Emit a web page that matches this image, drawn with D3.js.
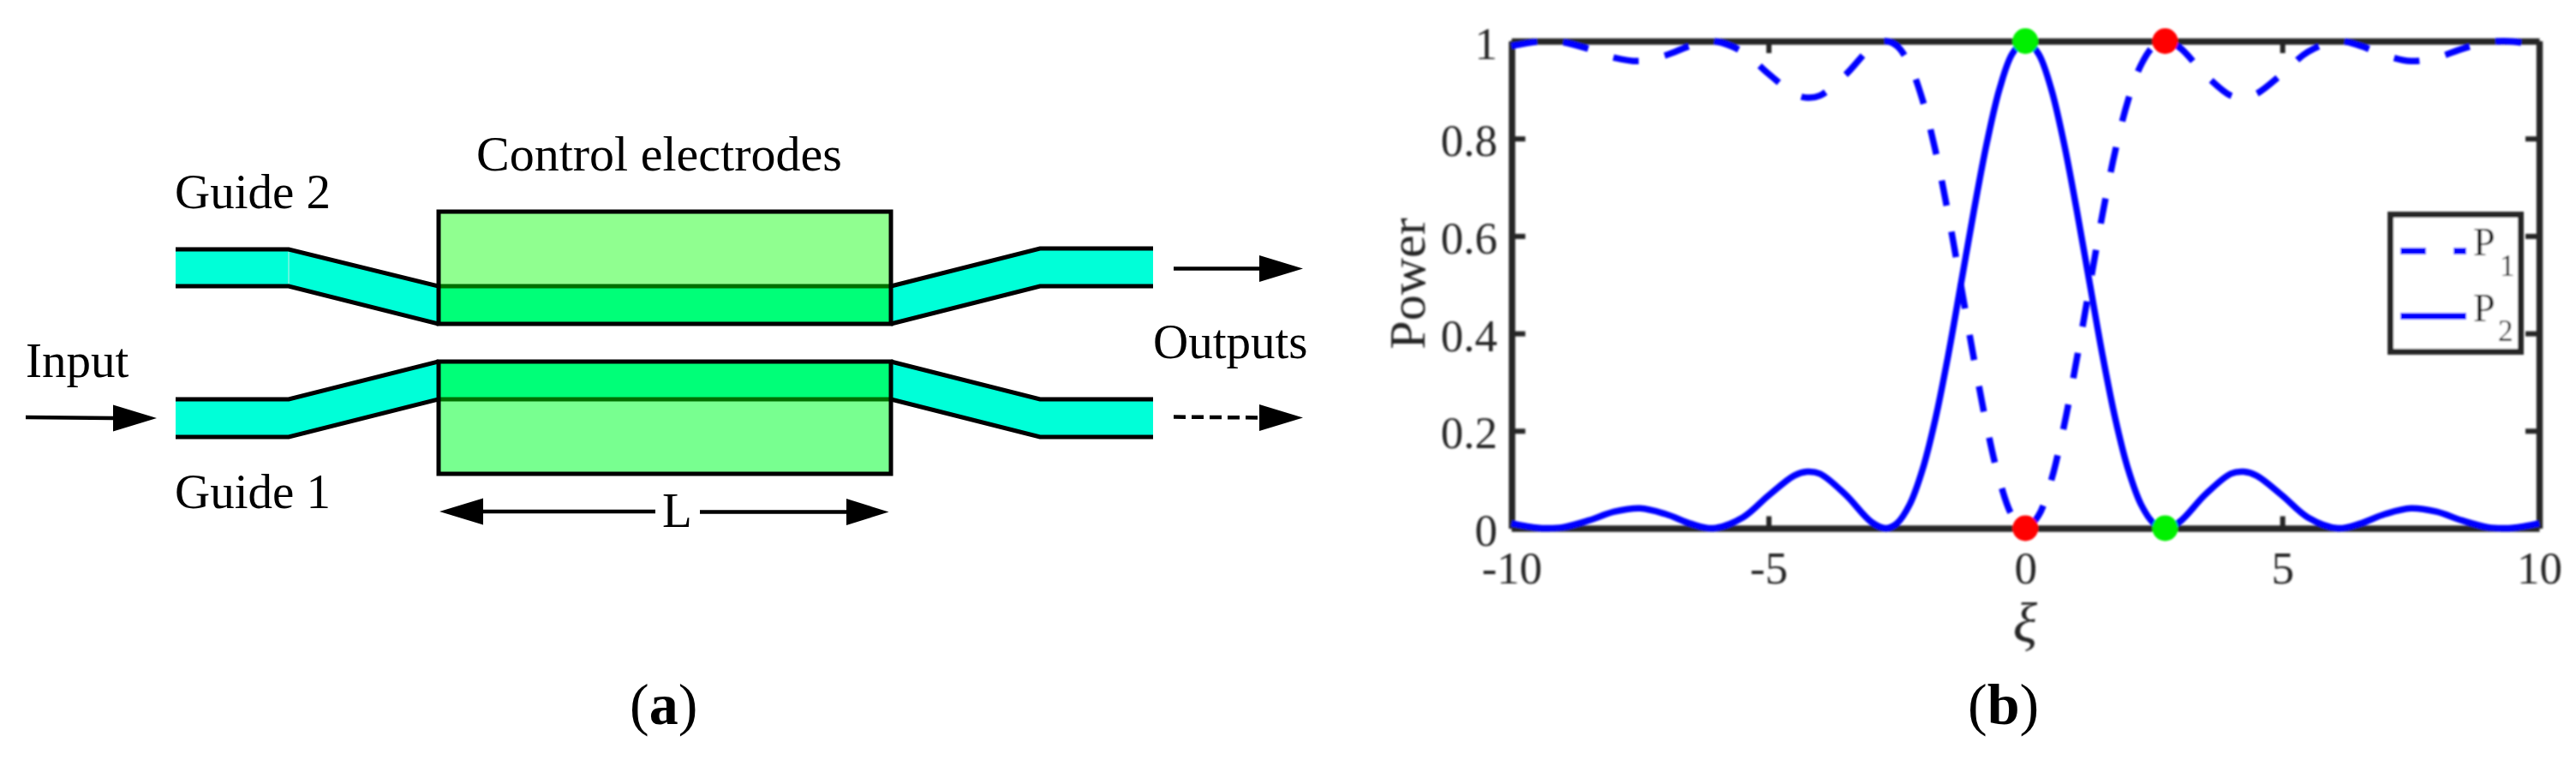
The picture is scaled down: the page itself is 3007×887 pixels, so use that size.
<!DOCTYPE html>
<html><head><meta charset="utf-8">
<script src="https://cdn.jsdelivr.net/npm/d3@7/dist/d3.min.js"></script>
<style>
html,body{margin:0;padding:0;background:#fff;overflow:hidden}
text{font-family:"Liberation Serif","Times New Roman",serif}
</style></head><body>
<svg id="fig" width="3007" height="887" xmlns="http://www.w3.org/2000/svg"></svg>
<script>
// ---- panel (b) data ----
const xi = [-10,-9.5,-9.3,-9,-8.5,-8,-7.5,-7,-6.5,-6.08,-5.5,-5,-4.5,-4.25,-4,-3.5,-3,-2.72,-2.5,-2.25,-2,-1.75,-1.5,-1.25,-1,-0.75,-0.5,-0.25,0,
            0.25,0.5,0.75,1,1.25,1.5,1.75,2,2.25,2.5,2.72,3,3.5,4,4.25,4.5,5,5.5,6.08,6.5,7,7.5,8,8.5,9,9.3,9.5,10];
const P2 = [0.010,0.001,0,0.002,0.016,0.034,0.041,0.029,0.009,0,0.022,0.067,0.108,0.116,0.112,0.069,0.013,0,0.010,0.049,0.121,0.225,0.356,0.504,0.653,0.791,0.903,0.975,1,
            0.975,0.903,0.791,0.653,0.504,0.356,0.225,0.121,0.049,0.010,0,0.013,0.069,0.112,0.116,0.108,0.067,0.022,0,0.009,0.029,0.041,0.034,0.016,0.002,0,0.001,0.010];
const P1 = [0.990,0.999,1,0.998,0.984,0.966,0.959,0.971,0.991,1,0.978,0.933,0.892,0.884,0.888,0.931,0.987,1,0.990,0.951,0.879,0.775,0.644,0.496,0.347,0.209,0.097,0.025,0,
            0.025,0.097,0.209,0.347,0.496,0.644,0.775,0.879,0.951,0.990,1,0.987,0.931,0.888,0.884,0.892,0.933,0.978,1,0.991,0.971,0.959,0.966,0.984,0.998,1,0.999,0.990];
const xTicks = [-10,-5,0,5,10];
const yTicks = [0,0.2,0.4,0.6,0.8,1];
const redDots = [[0,0],[2.72,1]];
const greenDots = [[0,1],[2.72,0]];
const legendNames = ["P","P"];
const legendSubs = ["1","2"];

const svg = d3.select("#fig");
const BLACK="#000", INK="#262626", BLUE="#0000ff";
const defs = svg.append("defs");
defs.append("filter").attr("id","soft").attr("x","-5%").attr("y","-5%").attr("width","110%").attr("height","110%")
  .append("feGaussianBlur").attr("stdDeviation",0.8);
defs.append("filter").attr("id","softer")
  .append("feGaussianBlur").attr("stdDeviation",0.4);

// ---- panel (a): the schematic ----
const a = svg.append("g").attr("filter","url(#softer)");
const line = d3.line();
function rect(x,y,w,h,fill){a.append("rect").attr("x",x).attr("y",y).attr("width",w).attr("height",h).attr("fill",fill);}
function guide(top,bot){
  a.append("path").attr("d",line(top.concat(bot.slice().reverse()))+"Z").attr("fill","#00ffd8");
  [top,bot].forEach(p=>a.append("path").attr("d",line(p)).attr("fill","none").attr("stroke",BLACK).attr("stroke-width",5));
}
rect(512,247,528,131,"#90ff90"); rect(512,334,528,44,"#00ff78");
rect(512,422,528,131,"#78ff90"); rect(512,422,528,44,"#00ff78");
guide([[205,291],[337,291],[512,334]],[[205,334],[337,334],[512,378]]);
guide([[205,466],[337,466],[512,422]],[[205,510],[337,510],[512,466]]);
guide([[1040,334],[1214,290],[1346,290]],[[1040,378],[1214,334],[1346,334]]);
guide([[1040,422],[1214,466],[1346,466]],[[1040,466],[1214,510],[1346,510]]);
a.append("line").attr("x1",337).attr("x2",337).attr("y1",294).attr("y2",331).attr("stroke","#c8ece6").attr("stroke-width",1);
[334,466].forEach(y=>a.append("line").attr("x1",512).attr("x2",1040).attr("y1",y).attr("y2",y).attr("stroke","#007000").attr("stroke-width",5));
[[512,247,528,131],[512,422,528,131]].forEach(r=>a.append("rect").attr("x",r[0]).attr("y",r[1]).attr("width",r[2]).attr("height",r[3])
  .attr("fill","none").attr("stroke",BLACK).attr("stroke-width",5));

function arrow(x1,y1,xb,xt,yt,dash){
  a.append("line").attr("x1",x1).attr("y1",y1).attr("x2",xb).attr("y2",yt).attr("stroke",BLACK).attr("stroke-width",4.5)
   .attr("stroke-dasharray",dash||null);
  a.append("path").attr("d",line([[xb,yt-15.5],[xt,yt],[xb,yt+15.5]])+"Z").attr("fill",BLACK);
}
arrow(30,487,132,183,488);
arrow(765,597,564,513,597);
arrow(817,597.5,988,1037.5,597.5);
arrow(1370,313.5,1470,1521,313.5);
arrow(1370,486.5,1470,1521,487.5,"14 7");

function label(x,y,t,size){return a.append("text").attr("x",x).attr("y",y).attr("font-size",size||57).attr("fill","#000").text(t);}
label(204,243,"Guide 2");
label(556,199,"Control electrodes",58);
label(30,440,"Input");
label(204,593,"Guide 1");
label(773,615,"L");
label(1346,418,"Outputs");

function tag(x,t){
  const s=svg.append("text").attr("x",x).attr("y",845).attr("font-size",68).attr("fill","#000");
  s.append("tspan").text("(");
  s.append("tspan").attr("font-weight","bold").text(t);
  s.append("tspan").text(")");
}
tag(735,"a");
tag(2297,"b");

// ---- panel (b): the plot ----
const x = d3.scaleLinear().domain([-10,10]).range([1764.5,2964]);
const y = d3.scaleLinear().domain([0,1]).range([616.5,48]);
const b = svg.append("g").attr("filter","url(#soft)");

const path = d3.line().x((d,i)=>x(xi[i])).y(d=>y(d)).curve(d3.curveCatmullRom.alpha(0.5));

function styleAxis(g){
  g.select(".domain").attr("stroke",INK).attr("stroke-width",7.5);
  g.selectAll(".tick line").attr("stroke",INK).attr("stroke-width",6);
  g.selectAll("text").attr("fill",INK).attr("font-size",53)
    .attr("font-family","Liberation Serif");
}
const fmt = d=>String(d);
b.append("g").attr("transform",`translate(0,${y(0)})`)
  .call(d3.axisBottom(x).tickValues(xTicks).tickFormat(fmt).tickSize(-14).tickSizeOuter(0).tickPadding(27)).call(styleAxis);
b.append("g").attr("transform",`translate(0,${y(1)})`)
  .call(d3.axisTop(x).tickValues(xTicks).tickFormat("").tickSize(-14).tickSizeOuter(0)).call(styleAxis);
b.append("g").attr("transform",`translate(${x(-10)},0)`)
  .call(d3.axisLeft(y).tickValues(yTicks).tickFormat(fmt).tickSize(-16).tickSizeOuter(0).tickPadding(16.5)).call(styleAxis)
  .selectAll("text").attr("dy","0.38em");
b.append("g").attr("transform",`translate(${x(10)},0)`)
  .call(d3.axisRight(y).tickValues(yTicks).tickFormat("").tickSize(-16).tickSizeOuter(0)).call(styleAxis);

b.append("path").datum(P1).attr("d",path).attr("fill","none").attr("stroke",BLUE).attr("stroke-width",7.5).attr("stroke-dasharray","30 31");
b.append("path").datum(P2).attr("d",path).attr("fill","none").attr("stroke",BLUE).attr("stroke-width",7.5);

b.selectAll("circle.red").data(redDots).enter().append("circle").attr("class","red")
  .attr("cx",d=>x(d[0])).attr("cy",d=>y(d[1])).attr("r",15).attr("fill","#ff0000");
b.selectAll("circle.green").data(greenDots).enter().append("circle").attr("class","green")
  .attr("cx",d=>x(d[0])).attr("cy",d=>y(d[1])).attr("r",15).attr("fill","#00f000");

b.append("text").attr("transform","translate(1663,331) rotate(-90)").attr("text-anchor","middle")
  .attr("font-size",60).attr("fill",INK).text("Power");
b.append("text").attr("x",2364).attr("y",749).attr("text-anchor","middle").attr("font-size",66)
  .attr("font-style","italic").attr("fill",INK).text("ξ");

// legend
const lg = b.append("g");
lg.append("rect").attr("x",2790.5).attr("y",250.5).attr("width",152).attr("height",160)
  .attr("fill","#fff").attr("stroke",INK).attr("stroke-width",7);
const legendY=[293,369], legendBase=[298,375], subBase=[322,398], subX=[2918,2916];
legendNames.forEach((n,i)=>{
  lg.append("line").attr("x1",2802).attr("x2",2879).attr("y1",legendY[i]).attr("y2",legendY[i])
    .attr("stroke",BLUE).attr("stroke-width",8).attr("stroke-dasharray",i===0?"30 32":null);
  lg.append("text").attr("x",2887).attr("y",legendBase[i]).attr("font-size",46).attr("fill","#111").text(n);
  lg.append("text").attr("x",subX[i]).attr("y",subBase[i]).attr("font-size",35).attr("fill","#111").text(legendSubs[i]);
});
</script>
</body></html>
